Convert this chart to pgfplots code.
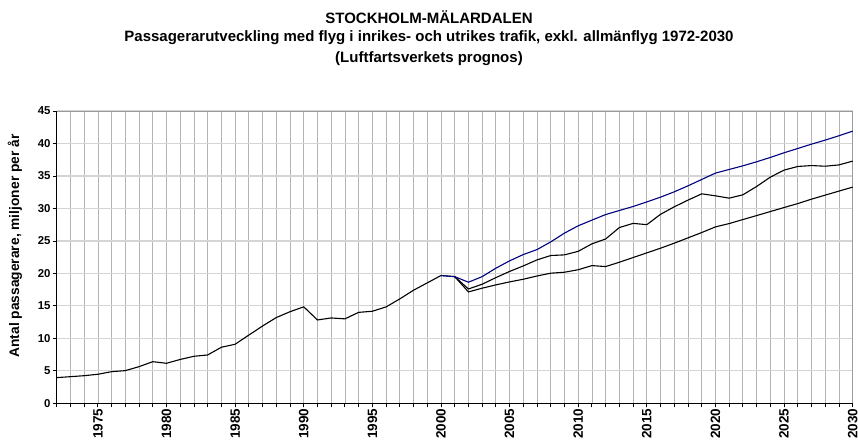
\documentclass[border=0pt]{standalone}
\usepackage{pgfplots}
\pgfplotsset{compat=1.18}
\usepackage{fontspec}
\setmainfont{Liberation Sans}
\definecolor{vgrid}{HTML}{B4B4B4}
\definecolor{hgrid}{HTML}{D4D4D4}
\definecolor{bord}{HTML}{9A9A9A}
\definecolor{navyline}{HTML}{000080}
\begin{document}
\begin{tikzpicture}[x=1pt,y=1pt]
\path[use as bounding box] (0,0) rectangle (858,446);
\node[font=\bfseries\fontsize{15}{17}\selectfont] at (429,429) {STOCKHOLM-MÄLARDALEN};
\node[font=\bfseries\fontsize{15}{17}\selectfont] at (429,408) {Passagerarutveckling med flyg i inrikes- och utrikes trafik, exkl. allmänflyg 1972-2030};
\node[font=\bfseries\fontsize{15}{17}\selectfont] at (429,387) {(Luftfartsverkets prognos)};
\node[rotate=90,font=\bfseries\fontsize{13.8}{15}\selectfont] at (15,200) {Antal passagerare, miljoner per år};
\begin{axis}[
  at={(56.7pt,42.7pt)}, anchor=south west,
  scale only axis, width=796pt, height=292.3pt,
  xmin=1972, xmax=2030, ymin=0, ymax=45,
  xtick={1975,1980,...,2030},
  minor xtick={1972,...,2030},
  ytick={0,5,...,45},
  xticklabel={\pgfmathprintnumber[1000 sep={}]{\tick}},
  x tick label style={rotate=90, anchor=east, font=\bfseries\fontsize{13.5}{15}\selectfont, inner sep=1pt},
  y tick label style={font=\bfseries\fontsize{11.4}{13}\selectfont, inner sep=2pt},
  /pgf/number format/assume math mode=true,
  /pgf/number format/1000 sep={},
  tick align=outside,
  major tick length=4pt, minor tick length=4pt,
  tick style={black, line width=0.8pt},
  xtick pos=bottom, ytick pos=left,
  xmajorgrids, xminorgrids, ymajorgrids,
  major x grid style={vgrid, line width=0.7pt},
  minor x grid style={vgrid, line width=0.7pt},
  major y grid style={hgrid, line width=1.2pt},
  axis line style={bord, line width=0.8pt},
  clip=false,
]
\addplot[black, line width=1.1pt] coordinates {
(1972,3.95) (1973,4.1) (1974,4.25) (1975,4.47) (1976,4.87) (1977,5.03) (1978,5.64) (1979,6.41) (1980,6.16)
(1981,6.75) (1982,7.24) (1983,7.44) (1984,8.63) (1985,9.09) (1986,10.5) (1987,11.9) (1988,13.2) (1989,14.1)
(1990,14.85) (1991,12.83) (1992,13.14) (1993,13.0) (1994,14.0) (1995,14.17) (1996,14.84) (1997,16.07)
(1998,17.41) (1999,18.54) (2000,19.67) (2001,19.5)};
\addplot[black, line width=1.1pt] coordinates {
(2001,19.5) (2002,17.6) (2003,18.33) (2004,19.35) (2005,20.3) (2006,21.15) (2007,22.08) (2008,22.75) (2009,22.85)
(2010,23.4) (2011,24.55) (2012,25.3) (2013,27.06) (2014,27.7) (2015,27.5) (2016,29.1) (2017,30.25) (2018,31.28)
(2019,32.25) (2020,31.94) (2021,31.58) (2022,32.1) (2023,33.38) (2024,34.82) (2025,35.9) (2026,36.46)
(2027,36.6) (2028,36.5) (2029,36.7) (2030,37.29)};
\addplot[black, line width=1.1pt] coordinates {
(2001,19.5) (2002,17.15) (2003,17.72) (2004,18.23) (2005,18.69) (2006,19.1) (2007,19.6) (2008,20.03) (2009,20.18)
(2010,20.56) (2011,21.2) (2012,21.05) (2013,21.72) (2014,22.44) (2015,23.16) (2016,23.88) (2017,24.65) (2018,25.47)
(2019,26.29) (2020,27.16) (2021,27.67) (2022,28.29) (2023,28.9) (2024,29.52) (2025,30.14) (2026,30.75)
(2027,31.43) (2028,32.05) (2029,32.67) (2030,33.28)};
\addplot[navyline, line width=1.1pt] coordinates {
(2000,19.67) (2001,19.5) (2002,18.64) (2003,19.5) (2004,20.8) (2005,21.93) (2006,22.9) (2007,23.67) (2008,24.85)
(2009,26.2) (2010,27.33) (2011,28.2) (2012,29.06) (2013,29.68) (2014,30.3) (2015,31.0) (2016,31.74) (2017,32.56)
(2018,33.48) (2019,34.46) (2020,35.44) (2021,36.0) (2022,36.56) (2023,37.18) (2024,37.85) (2025,38.57)
(2026,39.23) (2027,39.9) (2028,40.52) (2029,41.19) (2030,41.9)};
\draw[black, line width=0.9pt] (rel axis cs:0,1) -- (rel axis cs:0,0) -- (rel axis cs:1,0);
\end{axis}
\end{tikzpicture}
\end{document}
